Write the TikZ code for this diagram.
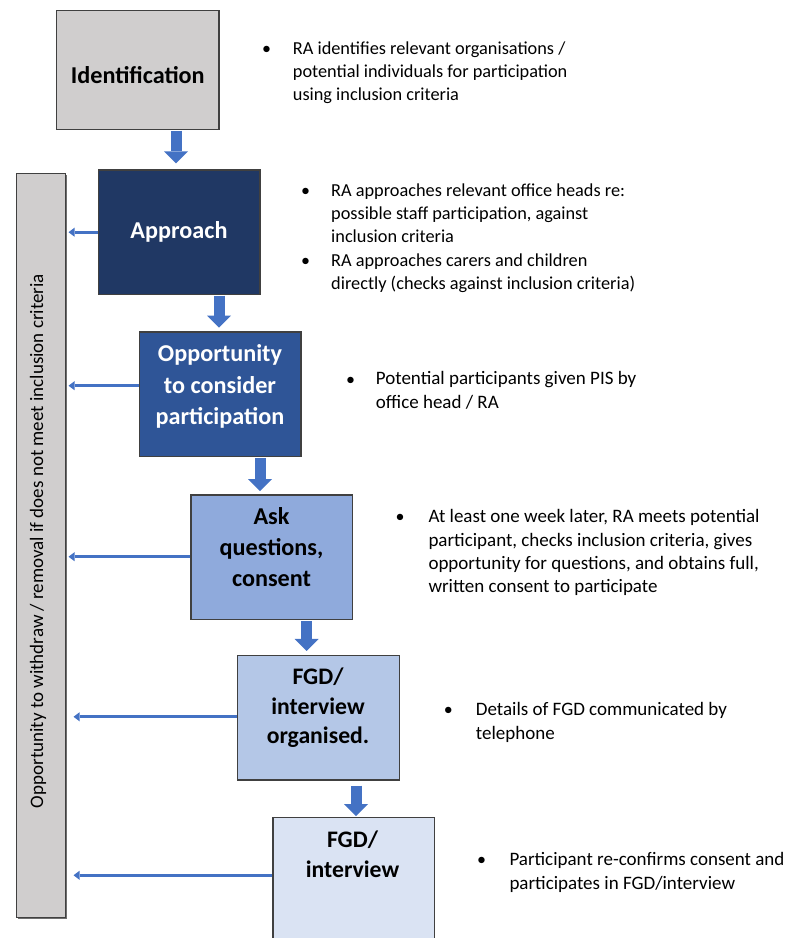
\documentclass[tikz,border=0pt]{standalone}
\usepackage{fontspec}
\setmainfont{Carlito}
\usetikzlibrary{arrows.meta}

\definecolor{edge}{HTML}{404040}
\definecolor{panelgray}{HTML}{D0CECE}
\definecolor{shadowgray}{HTML}{6E6E6E}
\definecolor{navy}{HTML}{203864}
\definecolor{midblue}{HTML}{2F5597}
\definecolor{softblue}{HTML}{8FAADC}
\definecolor{paleblue}{HTML}{B4C7E7}
\definecolor{mistblue}{HTML}{DAE3F3}
\definecolor{flowblue}{HTML}{4472C4}

\begin{document}
\begin{tikzpicture}[x=1pt,y=-1pt,
  stepbox/.style={draw=edge, line width=1.3pt, rectangle, inner sep=0pt,
    minimum width=161.6pt, minimum height=124.4pt},
  title/.style={font=\fontsize{24.2}{31.3}\selectfont\bfseries,
    align=center, anchor=base, inner sep=0pt},
  titlefgd/.style={title, font=\fontsize{23.7}{29.5}\selectfont\bfseries},
  note/.style={font=\fontsize{18.3}{23.3}\selectfont, align=left,
    anchor=base west, inner sep=0pt},
  bignote/.style={note, font=\fontsize{19}{23.3}\selectfont},
  dot/.style={font=\fontsize{18}{23.3}\selectfont, anchor=base, inner sep=0pt},
  flow/.style={draw=flowblue, line width=11pt,
    -{Triangle[length=12pt, width=24pt, line width=0pt]}},
  side/.style={draw=flowblue, line width=3pt,
    -{Triangle[length=6pt, width=9pt, line width=0pt]}},
]
\useasboundingbox (0,0) rectangle (787,938);

% side panel with its drop shadow
\node[fill=shadowgray, inner sep=0pt, minimum width=49pt, minimum height=744pt]
  (barshadow) at (42.5,547) {};
\node[draw=edge, line width=1pt, fill=panelgray, inner sep=0pt,
  minimum width=49pt, minimum height=744pt] (bar) at (40.5,545) {};
\node[rotate=90, inner sep=0pt, font=\fontsize{19}{22}\selectfont]
  (barT) at (38,541) {Opportunity to withdraw / removal if does not meet inclusion criteria};

% process steps
\node[stepbox, fill=panelgray, minimum width=162.3pt, minimum height=118.6pt]
  (ident) at (137.8,70) {};
\node[stepbox, fill=navy] (appr) at (179.3,232.2) {};
\node[stepbox, fill=midblue] (opp) at (220.2,394.2) {};
\node[stepbox, fill=softblue] (ask) at (271.8,557.2) {};
\node[stepbox, fill=paleblue] (org) at (318.5,717.8) {};
\node[stepbox, fill=mistblue] (fgd) at (353.8,880) {};

% step titles (placed by the baseline of their last line)
\node[title] (identT) at (137.8,83) {Identification};
\node[title, text=white] (apprT) at (179,238) {Approach};
\node[title, text=white] (oppT) at (220,424.3) {Opportunity\\to consider\\participation};
\node[title] (askT) at (271.5,586.6) {Ask\\questions,\\consent};
\node[titlefgd] (orgT) at (318,743.5) {FGD/\\interview\\organised.};
\node[titlefgd] (fgdT) at (352.5,877.2) {FGD/\\interview};

% vertical flow arrows
\coordinate (c1) at (176,0);
\coordinate (c2) at (219,0);
\coordinate (c3) at (260,0);
\coordinate (c4) at (306.7,0);
\coordinate (c5) at (356,0);
\draw[flow, shorten <=0.6pt, shorten >=6pt] (ident.south -| c1) -- (appr.north -| c1);
\draw[flow, shorten <=0.6pt, shorten >=3.7pt] (appr.south -| c2) -- (opp.north -| c2);
\draw[flow, shorten <=1.3pt, shorten >=3.3pt] (opp.south -| c3) -- (ask.north -| c3);
\draw[flow, shorten <=0.7pt, shorten >=4pt] (ask.south -| c4) -- (org.north -| c4);
\draw[flow, shorten <=5pt, shorten >=1pt] (org.south -| c5) -- (fgd.north -| c5);

% withdrawal arrows towards the side panel
\coordinate (w1) at (appr.west);
\coordinate (w2) at ([yshift=8.5pt]opp.west);
\coordinate (w3) at ([yshift=0.5pt]ask.west);
\coordinate (w4) at ([yshift=1pt]org.west);
\coordinate (w5) at ([yshift=4.7pt]fgd.west);
\draw[side, shorten >=3pt] (w1) -- (w1 -| bar.east);
\draw[side, shorten >=3pt] (w2) -- (w2 -| bar.east);
\draw[side, shorten >=3pt] (w3) -- (w3 -| bar.east);
\draw[side, shorten >=8pt] (w4) -- (w4 -| bar.east);
\draw[side, shorten >=8pt] (w5) -- (w5 -| bar.east);

% notes beside each step (bullet at the first baseline, text by its last baseline)
\node[dot] (b1) at (266.7,54) {•};
\node[note] (n1) at (292.7,100.6) {RA identifies relevant organisations /\\potential individuals for participation\\using inclusion criteria};
\node[dot] (b2) at (305.7,196) {•};
\node[note] (n2) at (331,242.6) {RA approaches relevant office heads re:\\possible staff participation, against\\inclusion criteria};
\node[dot] (b3) at (305.7,266) {•};
\node[note] (n3) at (331,289.3) {RA approaches carers and children\\directly (checks against inclusion criteria)};
\node[dot] (b4) at (350.7,385) {•};
\node[bignote] (n4) at (375.7,408) {Potential participants given PIS by\\office head / RA};
\node[dot] (b5) at (400,522.7) {•};
\node[bignote] (n5) at (428.3,592.6) {At least one week later, RA meets potential\\participant, checks inclusion criteria, gives\\opportunity for questions, and obtains full,\\written consent to participate};
\node[dot] (b6) at (448.3,715.7) {•};
\node[bignote] (n6) at (475.7,739) {Details of FGD communicated by\\telephone};
\node[dot] (b7) at (481.7,865.7) {•};
\node[bignote] (n7) at (509.3,889) {Participant re-confirms consent and\\participates in FGD/interview};
\end{tikzpicture}
\end{document}
